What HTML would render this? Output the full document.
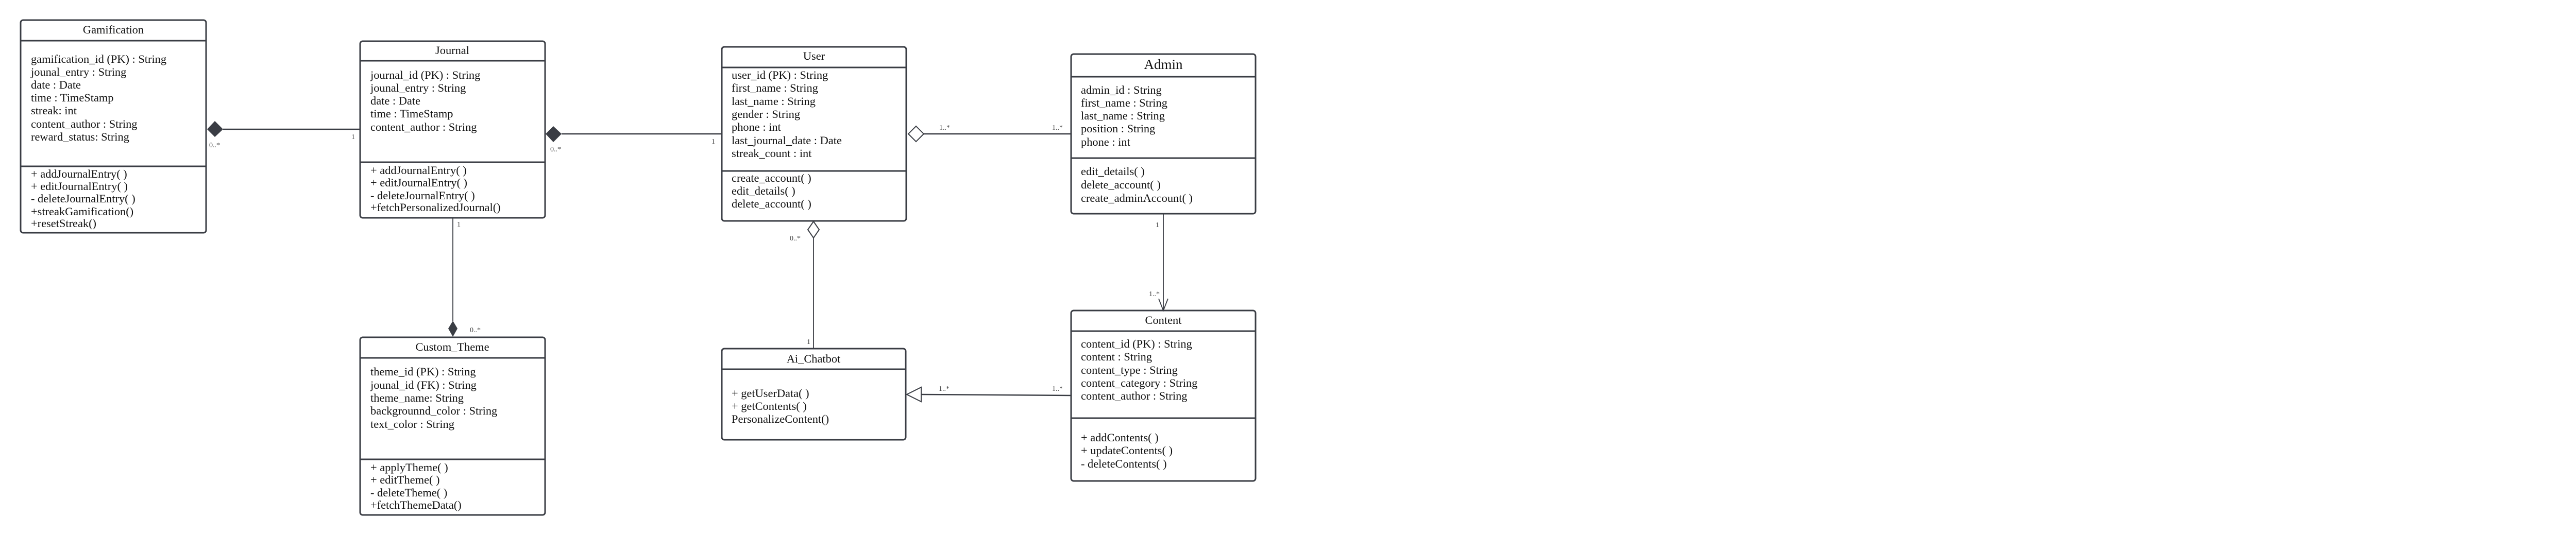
<!DOCTYPE html>
<html><head><meta charset="utf-8"><style>
html,body{margin:0;padding:0;background:#fff;}
svg{display:block;}
text{font-family:"Liberation Serif",serif;fill:#111;}
.t{font-size:22.4px;}
.m{font-size:14px;fill:#444;}
</style></head><body>
<svg width="5340" height="1037" viewBox="0 0 5340 1037" xmlns="http://www.w3.org/2000/svg">
<g fill="none" stroke="#3a3d44" stroke-width="3">
<rect x="40" y="39" width="360" height="413" rx="5"/>
<line x1="40" y1="79" x2="400" y2="79"/><line x1="40" y1="323" x2="400" y2="323"/>
<rect x="699" y="80" width="359" height="343" rx="5"/>
<line x1="699" y1="118" x2="1058" y2="118"/><line x1="699" y1="315" x2="1058" y2="315"/>
<rect x="1401" y="91" width="358" height="338" rx="5"/>
<line x1="1401" y1="131" x2="1759" y2="131"/><line x1="1401" y1="332" x2="1759" y2="332"/>
<rect x="2079" y="105" width="358" height="310" rx="5"/>
<line x1="2079" y1="149" x2="2437" y2="149"/><line x1="2079" y1="307" x2="2437" y2="307"/>
<rect x="699" y="655" width="359" height="345" rx="5"/>
<line x1="699" y1="695" x2="1058" y2="695"/><line x1="699" y1="892" x2="1058" y2="892"/>
<rect x="1401" y="677" width="357" height="177" rx="5"/>
<line x1="1401" y1="717" x2="1758" y2="717"/>
<rect x="2079" y="603" width="358" height="331" rx="5"/>
<line x1="2079" y1="643" x2="2437" y2="643"/><line x1="2079" y1="812" x2="2437" y2="812"/>
</g>
<g stroke="#3a3d44" fill="none">
<line x1="433" y1="251" x2="699" y2="251" stroke-width="2.5"/>
<line x1="1090" y1="260" x2="1401" y2="260" stroke-width="2.5"/>
<line x1="1793" y1="260" x2="2079" y2="260" stroke-width="2.5"/>
<line x1="879" y1="423" x2="879" y2="623" stroke-width="1.8"/>
<line x1="1579" y1="462" x2="1579" y2="677" stroke-width="1.8"/>
<line x1="2258" y1="415" x2="2258" y2="602" stroke-width="1.8"/>
<polyline points="2249,580 2258,603 2267,580" stroke-width="1.8"/>
<line x1="1788" y1="766" x2="2079" y2="768" stroke-width="2.5"/>
<polygon points="1760,766 1788,752 1788,780" fill="#fff" stroke-width="2"/>
<polygon points="1763,260 1778,245 1793,260 1778,275" fill="#fff" stroke-width="2"/>
<polygon points="1579,430 1590,446 1579,462 1568,446" fill="#fff" stroke-width="2"/>
</g>
<g fill="#3a3d44">
<polygon points="402,251 417,235 433,251 417,266"/>
<polygon points="1059,260 1074,245 1090,260 1074,276"/>
<polygon points="879,623 888,638 879,654 870,638"/>
</g>
<g class="m">
<text x="406" y="286" class="m">0..*</text>
<text x="682" y="270" class="m">1</text>
<text x="1068" y="294" class="m">0..*</text>
<text x="1381" y="279" class="m">1</text>
<text x="1823" y="252" class="m">1..*</text>
<text x="2042" y="252" class="m">1..*</text>
<text x="887" y="440" class="m">1</text>
<text x="912" y="645" class="m">0..*</text>
<text x="1533" y="467" class="m">0..*</text>
<text x="1566" y="668" class="m">1</text>
<text x="2243" y="441" class="m">1</text>
<text x="2230" y="575" class="m">1..*</text>
<text x="1822" y="759" class="m">1..*</text>
<text x="2042" y="759" class="m">1..*</text>
</g>
<g class="t" dominant-baseline="middle">
<text x="220" y="60" text-anchor="middle">Gamification</text>
<text x="60" y="117">gamification_id (PK) : String</text>
<text x="60" y="142">jounal_entry : String</text>
<text x="60" y="167">date : Date</text>
<text x="60" y="192">time : TimeStamp</text>
<text x="60" y="217">streak: int</text>
<text x="60" y="243">content_author : String</text>
<text x="60" y="268">reward_status: String</text>
<text x="60" y="340">+ addJournalEntry( )</text>
<text x="60" y="364">+ editJournalEntry( )</text>
<text x="60" y="388">- deleteJournalEntry( )</text>
<text x="60" y="413">+streakGamification()</text>
<text x="60" y="436">+resetStreak()</text>

<text x="878" y="100" text-anchor="middle">Journal</text>
<text x="719" y="148">journal_id (PK) : String</text>
<text x="719" y="173">jounal_entry : String</text>
<text x="719" y="198">date : Date</text>
<text x="719" y="223">time : TimeStamp</text>
<text x="719" y="249">content_author : String</text>
<text x="719" y="333">+ addJournalEntry( )</text>
<text x="719" y="357">+ editJournalEntry( )</text>
<text x="719" y="382">- deleteJournalEntry( )</text>
<text x="719" y="405">+fetchPersonalizedJournal()</text>

<text x="1580" y="111" text-anchor="middle">User</text>
<text x="1420" y="148">user_id (PK) : String</text>
<text x="1420" y="173">first_name : String</text>
<text x="1420" y="199">last_name : String</text>
<text x="1420" y="224">gender : String</text>
<text x="1420" y="249">phone : int</text>
<text x="1420" y="275">last_journal_date : Date</text>
<text x="1420" y="300">streak_count : int</text>
<text x="1420" y="348">create_account( )</text>
<text x="1420" y="373">edit_details( )</text>
<text x="1420" y="398">delete_account( )</text>

<text x="2258" y="128" text-anchor="middle" style="font-size:27px">Admin</text>
<text x="2098" y="177">admin_id : String</text>
<text x="2098" y="202">first_name : String</text>
<text x="2098" y="227">last_name : String</text>
<text x="2098" y="252">position : String</text>
<text x="2098" y="278">phone : int</text>
<text x="2098" y="335">edit_details( )</text>
<text x="2098" y="361">delete_account( )</text>
<text x="2098" y="387">create_adminAccount( )</text>

<text x="878" y="676" text-anchor="middle">Custom_Theme</text>
<text x="719" y="724">theme_id (PK) : String</text>
<text x="719" y="750">jounal_id (FK) : String</text>
<text x="719" y="775">theme_name: String</text>
<text x="719" y="800">backgrounnd_color : String</text>
<text x="719" y="826">text_color : String</text>
<text x="719" y="910">+ applyTheme( )</text>
<text x="719" y="934">+ editTheme( )</text>
<text x="719" y="959">- deleteTheme( )</text>
<text x="719" y="983">+fetchThemeData()</text>

<text x="1579" y="699" text-anchor="middle">Ai_Chatbot</text>
<text x="1420" y="766">+ getUserData( )</text>
<text x="1420" y="791">+ getContents( )</text>
<text x="1420" y="816">PersonalizeContent()</text>

<text x="2258" y="624" text-anchor="middle">Content</text>
<text x="2098" y="670">content_id (PK) : String</text>
<text x="2098" y="695">content : String</text>
<text x="2098" y="721">content_type : String</text>
<text x="2098" y="746">content_category : String</text>
<text x="2098" y="771">content_author : String</text>
<text x="2098" y="852">+ addContents( )</text>
<text x="2098" y="877">+ updateContents( )</text>
<text x="2098" y="903">- deleteContents( )</text>
</g>
</svg>
</body></html>
